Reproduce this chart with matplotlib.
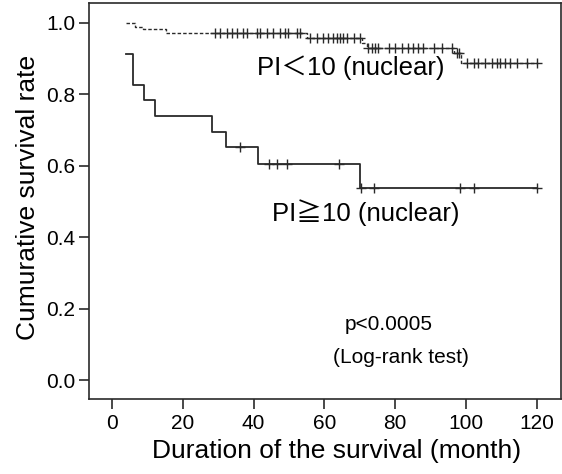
import numpy as np
import matplotlib
matplotlib.use("Agg")
import matplotlib.pyplot as plt

plt.rcParams["font.family"] = ["Liberation Sans", "Noto Sans CJK JP", "DejaVu Sans"]

# PI < 10 (nuclear): step times and survival after each step
LOW_T = [4.0, 6.5, 8.8, 15.3, 55.0, 70.6, 72.0, 96.5, 98.5, 120.0]
LOW_S = [1.0, 0.989, 0.982, 0.972, 0.959, 0.945, 0.931, 0.915, 0.889, 0.889]
LOW_CENS = [29.1, 30.5, 32.4, 33.8, 35.2, 37.1, 38.0, 40.9, 41.8, 43.7, 45.6,
            47.5, 48.9, 49.8, 52.2, 53.1,
            55.9, 57.8, 59.7, 61.1, 62.5, 63.5, 64.4, 65.3, 66.3, 68.2, 70.1,
            72.4, 73.3, 74.3, 75.2, 78.1, 79.9, 81.8, 83.7, 85.1, 86.5, 87.9,
            90.8, 93.1, 95.9, 97.4, 98.0,
            100.2, 102.1, 103.5, 105.4, 107.3, 108.7, 109.6, 111.0, 112.4,
            114.3, 117.1, 120.0]

# PI >= 10 (nuclear)
HIGH_T = [4.0, 5.8, 9.0, 12.1, 28.2, 32.1, 41.2, 70.1, 120.0]
HIGH_S = [0.913, 0.826, 0.783, 0.739, 0.696, 0.652, 0.605, 0.538, 0.538]
HIGH_CENS = [36.2, 44.2, 46.5, 49.3, 64.2, 70.3, 74.0, 98.3, 102.1, 120.0]

XTICKS = [0, 20, 40, 60, 80, 100, 120]
YTICKS = [0.0, 0.2, 0.4, 0.6, 0.8, 1.0]


def surv_at(times, surv, t):
    idx = np.searchsorted(times, t, side="right") - 1
    return np.asarray(surv)[idx]


fig = plt.figure(figsize=(5.62, 4.74), dpi=100)
ax = fig.add_axes([89 / 562, 75 / 474, 472 / 562, 396 / 474])

col = "#2a2a2a"
ax.step(LOW_T, LOW_S, where="post", color=col, lw=1.0, ls=(0, (2.5, 1.5)))
ax.plot(LOW_CENS, surv_at(LOW_T, LOW_S, LOW_CENS), "+", color=col, ms=6.5, mew=1.0)
ax.step(HIGH_T, HIGH_S, where="post", color=col, lw=1.3)
ax.plot(HIGH_CENS, surv_at(HIGH_T, HIGH_S, HIGH_CENS), "+", color=col, ms=6.5, mew=1.0)

ax.set_xlim(-6.5, 126.8)
ax.set_ylim(-0.053, 1.056)
ax.set_xticks(XTICKS)
ax.set_yticks(YTICKS)
ax.set_yticklabels([f"{v:.1f}" for v in YTICKS])
ax.tick_params(direction="out", length=7, width=1.2, color=col, labelsize=15, pad=3)
ax.tick_params(axis="x", pad=4)
for s in ax.spines.values():
    s.set_color(col)
    s.set_linewidth(1.2)

ax.set_xlabel("Duration of the survival (month)", fontsize=19)
ax.set_ylabel("Cumurative survival rate", fontsize=19)
ax.xaxis.set_label_coords(0.525, -0.1)
ax.yaxis.set_label_coords(-0.104, 0.51)

ax.text(41.0, 0.874, "PI\uff1c10 (nuclear)", fontsize=18.5, va="center", ha="left")
ax.text(45.2, 0.468, "PI\u226710 (nuclear)", fontsize=18.5, va="center", ha="left")
ax.text(65.8, 0.155, "p<0.0005", fontsize=15, va="center", ha="left")
ax.text(62.4, 0.064, "(Log-rank test)", fontsize=15, va="center", ha="left")

fig.savefig("out.png", dpi=100)
